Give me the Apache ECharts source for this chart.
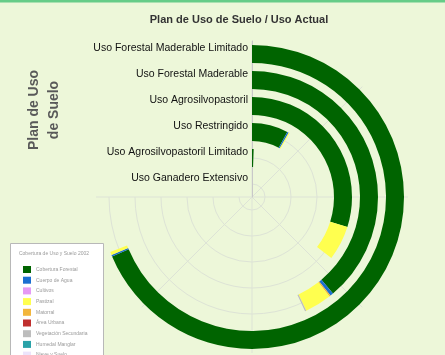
<!DOCTYPE html>
<html>
<head>
<meta charset="utf-8">
<script src="https://cdn.jsdelivr.net/npm/echarts@6/dist/echarts.min.js"></script>
<style>
  html, body { margin: 0; padding: 0; background: #edf7d9; }
  #chart { width: 445px; height: 355px; }
</style>
</head>
<body>
<div id="chart"></div>
<script>
// categorías del plan de uso (de adentro hacia afuera)
const categorias = [
  "Uso Ganadero Extensivo",
  "Uso Agrosilvopastoril Limitado",
  "Uso Restringido",
  "Uso Agrosilvopastoril",
  "Uso Forestal Maderable",
  "Uso Forestal Maderable Limitado",
];

// valores (escala angular 0-270)
const coberturaForestal = [0, 2, 28.5, 107.5, 140, 247];
const cuerpoAgua = [0, 0, 1.2, 0, 1.5, 0.6];
const matorral = [0, 0, 0, 0, 0.6, 0];
const pastizal = [0, 0, 0.8, 20, 12.4, 1.2];
const vegetacion = [0, 0, 0, 0, 0.6, 0];
const cultivos = [0, 0, 0, 0, 0, 0];
const areaUrbana = [0, 0, 0, 0, 0, 0];
const humedal = [0, 0, 0, 0, 0, 0];
const nieve = [0, 0, 0, 0, 0, 0];

const leyenda = [
  "Cobertura Forestal",
  "Cuerpo de Agua",
  "Cultivos",
  "Pastizal",
  "Matorral",
  "Área Urbana",
  "Vegetación Secundaria",
  "Humedal Manglar",
  "Nieve y Suelo",
];

const chart = echarts.init(document.getElementById("chart"));

const serie = (name, data, color) => ({
  name,
  type: "bar",
  coordinateSystem: "polar",
  stack: "uso",
  data,
  barWidth: 18,
  itemStyle: { color },
});

const option = {
  backgroundColor: "#edf7d9",
  textStyle: { fontFamily: "Liberation Sans, Arial, sans-serif" },
  title: {
    text: "Plan de Uso de Suelo / Uso Actual",
    left: 234,
    top: 9,
    textAlign: "center",
    textStyle: { fontSize: 11, fontWeight: "bold", color: "#333" },
  },
  polar: {
    center: [252, 197],
    radius: 156,
  },
  angleAxis: {
    type: "value",
    min: 0,
    max: 270,
    interval: 45,
    startAngle: 90,
    endAngle: -180,
    axisLine: { show: false },
    axisTick: { show: false },
    axisLabel: { show: false },
    splitLine: { show: true, lineStyle: { color: "#dde3d6", width: 1 } },
  },
  radiusAxis: {
    type: "category",
    data: categorias,
    axisLine: { show: true, lineStyle: { color: "#c8c8c8" } },
    axisTick: { show: false, alignWithLabel: true, interval: 0 },
    axisLabel: {
      interval: 0,
      hideOverlap: false,
      fontSize: 10.5,
      color: "#111",
      verticalAlign: "bottom",
      margin: 4,
    },
    splitLine: { show: true, interval: 0, lineStyle: { color: "#dde3d6", width: 1 } },
  },
  legend: {
    orient: "vertical",
    left: 18,
    top: 261,
    height: 110,
    data: leyenda,
    itemWidth: 8,
    itemHeight: 7,
    itemGap: 3.7,
    icon: "rect",
    selectedMode: false,
    textStyle: { fontSize: 5, color: "#9a9a9a" },
  },
  graphic: [
    {
      type: "rect",
      left: 0,
      top: 0,
      shape: { x: 0, y: 0, width: 445, height: 2.5 },
      style: { fill: "#66cc88" },
    },
    {
      type: "rect",
      z: -1,
      shape: { x: 10.5, y: 243.5, width: 93, height: 120 },
      style: { fill: "#ffffff", stroke: "#b8b8b8", lineWidth: 1 },
    },
    {
      type: "text",
      x: 54,
      y: 254,
      style: {
        text: "Cobertura de Uso y Suelo 2002",
        fontSize: 5,
        fill: "#9a9a9a",
        align: "center",
        verticalAlign: "middle",
      },
    },
    {
      type: "text",
      x: 44,
      y: 110,
      rotation: Math.PI / 2,
      style: {
        text: "Plan de Uso\nde Suelo",
        fontSize: 14,
        fontWeight: "bold",
        fill: "#595959",
        align: "center",
        verticalAlign: "middle",
        lineHeight: 20,
        fontFamily: "Liberation Sans, Arial, sans-serif",
      },
    },
  ],
  series: [
    serie("Cobertura Forestal", coberturaForestal, "#006400"),
    serie("Cuerpo de Agua", cuerpoAgua, "#1b6fd1"),
    serie("Matorral", matorral, "#f2b63c"),
    serie("Pastizal", pastizal, "#ffff4f"),
    serie("Vegetación Secundaria", vegetacion, "#bdbdbd"),
    serie("Cultivos", cultivos, "#e59af5"),
    serie("Área Urbana", areaUrbana, "#c0302f"),
    serie("Humedal Manglar", humedal, "#2aa2a8"),
    serie("Nieve y Suelo", nieve, "#ece4fb"),
  ],
};

chart.setOption(option);
</script>
</body>
</html>
